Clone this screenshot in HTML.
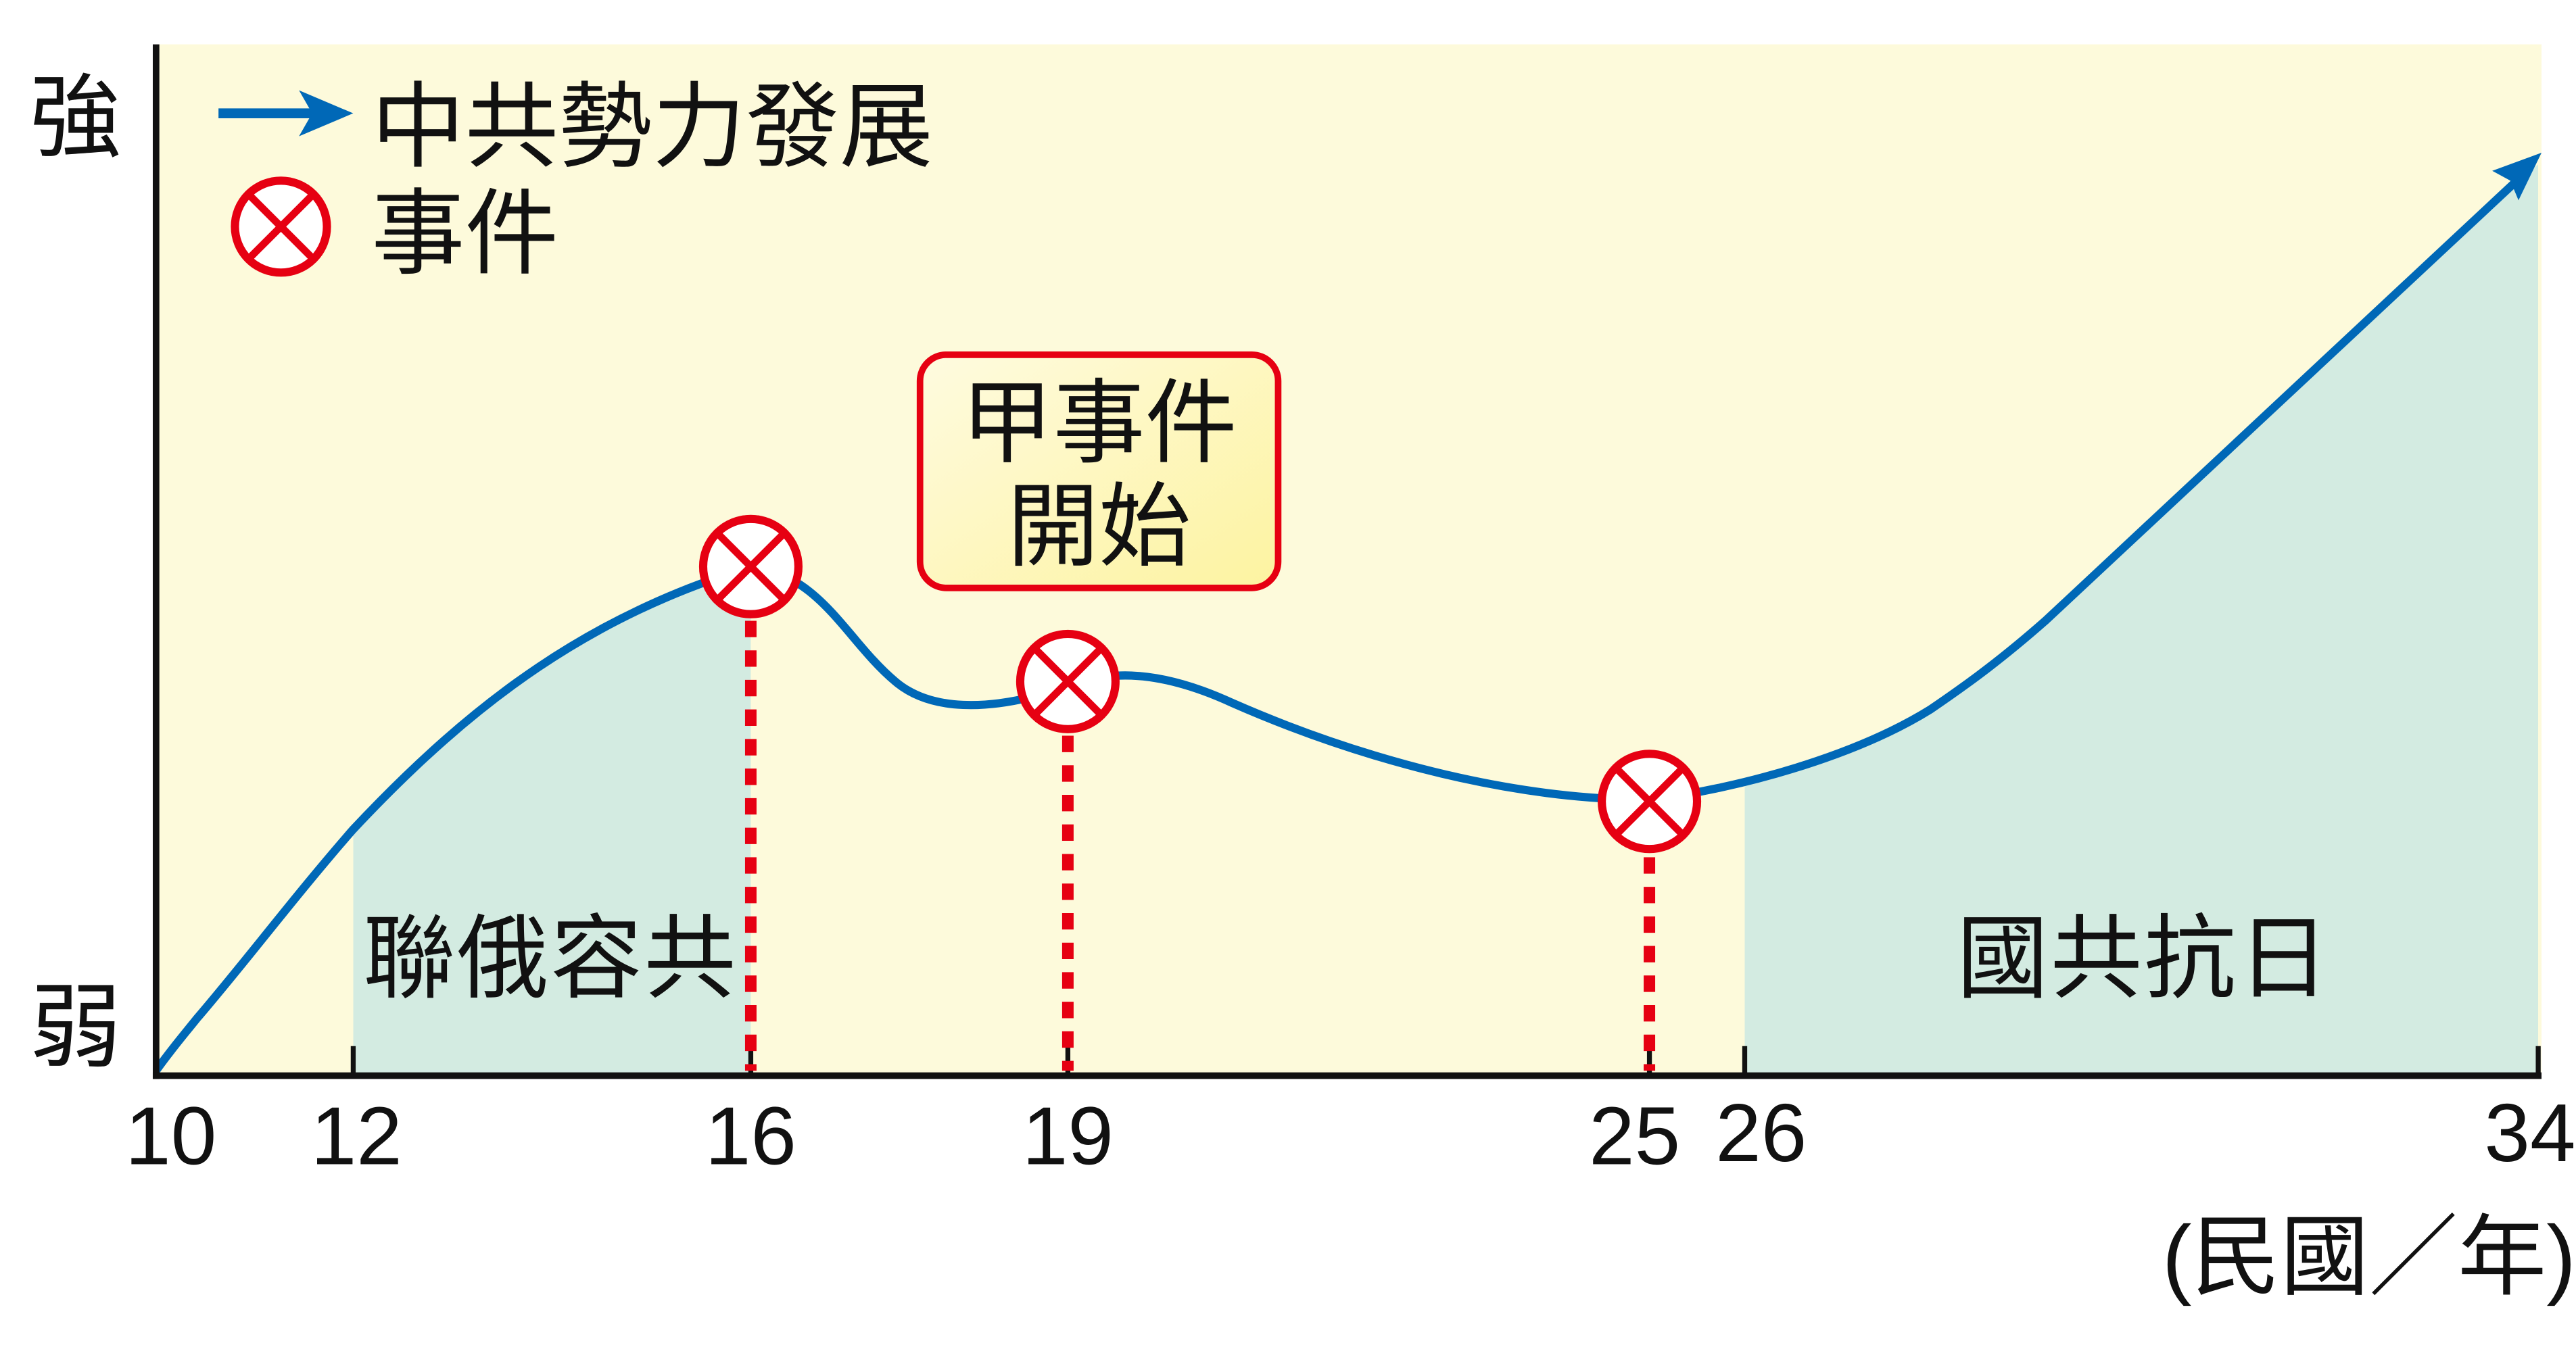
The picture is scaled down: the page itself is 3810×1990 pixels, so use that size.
<!DOCTYPE html>
<html><head><meta charset="utf-8"><style>
html,body{margin:0;padding:0;background:#fff;}
svg{display:block;}
text{font-family:"Liberation Sans","Noto Sans CJK TC",sans-serif;fill:#111;}
</style></head><body>
<svg width="3810" height="1990" viewBox="0 0 1568 819" preserveAspectRatio="none" xmlns="http://www.w3.org/2000/svg">
<defs>
<clipPath id="c1"><rect x="215" y="0" width="242" height="655"/><rect x="1062" y="0" width="483" height="655"/></clipPath>
<linearGradient id="bx" x1="0" y1="0" x2="1" y2="1"><stop offset="0" stop-color="#fefbe0"/><stop offset="1" stop-color="#fdf3a0"/></linearGradient>
</defs>
<rect x="95" y="27" width="1452" height="628" fill="#fdfadb"/>
<path clip-path="url(#c1)" fill="#d3ebe1" d="M95,652 C105,638 112,630 120,620 C150,585 180,545 215,505 C290,425 360,375 457,345 C500,350 515,390 545,415 C565,432 600,435 650,418 C670,410 700,405 750,428 C800,450 900,487 1004,487 C1060,480 1130,460 1175,432 C1200,415 1220,400 1245,378 L1545,100 L1545,655 L95,655 Z"/>
<path fill="none" stroke="#0068b7" stroke-width="5" d="M95,652 C105,638 112,630 120,620 C150,585 180,545 215,505 C290,425 360,375 457,345 C500,350 515,390 545,415 C565,432 600,435 650,418 C670,410 700,405 750,428 C800,450 900,487 1004,487 C1060,480 1130,460 1175,432 C1200,415 1220,400 1245,378 L1532,110"/>
<polygon points="1547,93 1517,104 1528,110 1533,122" fill="#0068b7"/>
<line x1="95" y1="27" x2="95" y2="657" stroke="#111" stroke-width="4"/>
<line x1="93" y1="655" x2="1547" y2="655" stroke="#111" stroke-width="4"/>
<g stroke="#111" stroke-width="3">
<line x1="215" y1="637" x2="215" y2="655"/><line x1="457" y1="637" x2="457" y2="655"/><line x1="650" y1="637" x2="650" y2="655"/><line x1="1004" y1="637" x2="1004" y2="655"/><line x1="1062" y1="637" x2="1062" y2="655"/><line x1="1545" y1="637" x2="1545" y2="655"/>
</g>
<g stroke="#e60012" stroke-width="7" stroke-dasharray="10,8">
<line x1="457" y1="378" x2="457" y2="652"/><line x1="650" y1="448" x2="650" y2="652"/><line x1="1004" y1="522" x2="1004" y2="652"/>
</g>
<g stroke="#e60012" stroke-width="5" fill="#fff">
<circle cx="457" cy="345" r="29"/><circle cx="650" cy="415" r="29"/><circle cx="1004" cy="488" r="29"/><circle cx="171" cy="138" r="28"/>
</g>
<g stroke="#e60012" stroke-width="4.5">
<path d="M437,325 L477,365 M477,325 L437,365"/>
<path d="M630,395 L670,435 M670,395 L630,435"/>
<path d="M984,468 L1024,508 M1024,468 L984,508"/>
<path d="M152,119 L190,157 M190,119 L152,157"/>
</g>
<line x1="133" y1="69" x2="200" y2="69" stroke="#0068b7" stroke-width="6"/>
<polygon points="215,69 182,55 190,69 182,83" fill="#0068b7"/>
<text x="226" y="97" font-size="57" textLength="342">中共勢力發展</text>
<text x="226" y="162" font-size="57">事件</text>
<rect x="560" y="216" width="218" height="142" rx="16" fill="url(#bx)" stroke="#e60012" stroke-width="4"/>
<text x="669" y="277" font-size="56" text-anchor="middle">甲事件</text>
<text x="669" y="340" font-size="56" text-anchor="middle">開始</text>
<text x="18" y="91" font-size="56">強</text>
<text x="18" y="645" font-size="56">弱</text>
<text x="221" y="603" font-size="56" textLength="227">聯俄容共</text>
<text x="1191" y="603" font-size="56" textLength="227">國共抗日</text>
<g font-size="50" text-anchor="middle">
<text x="104" y="709">10</text><text x="217" y="709">12</text><text x="457" y="709">16</text><text x="650" y="709">19</text><text x="995" y="709">25</text><text x="1072" y="707">26</text><text x="1540" y="707">34</text>
</g>
<text x="1568" y="784" font-size="54" text-anchor="end">(民國／年)</text>
</svg>
</body></html>
